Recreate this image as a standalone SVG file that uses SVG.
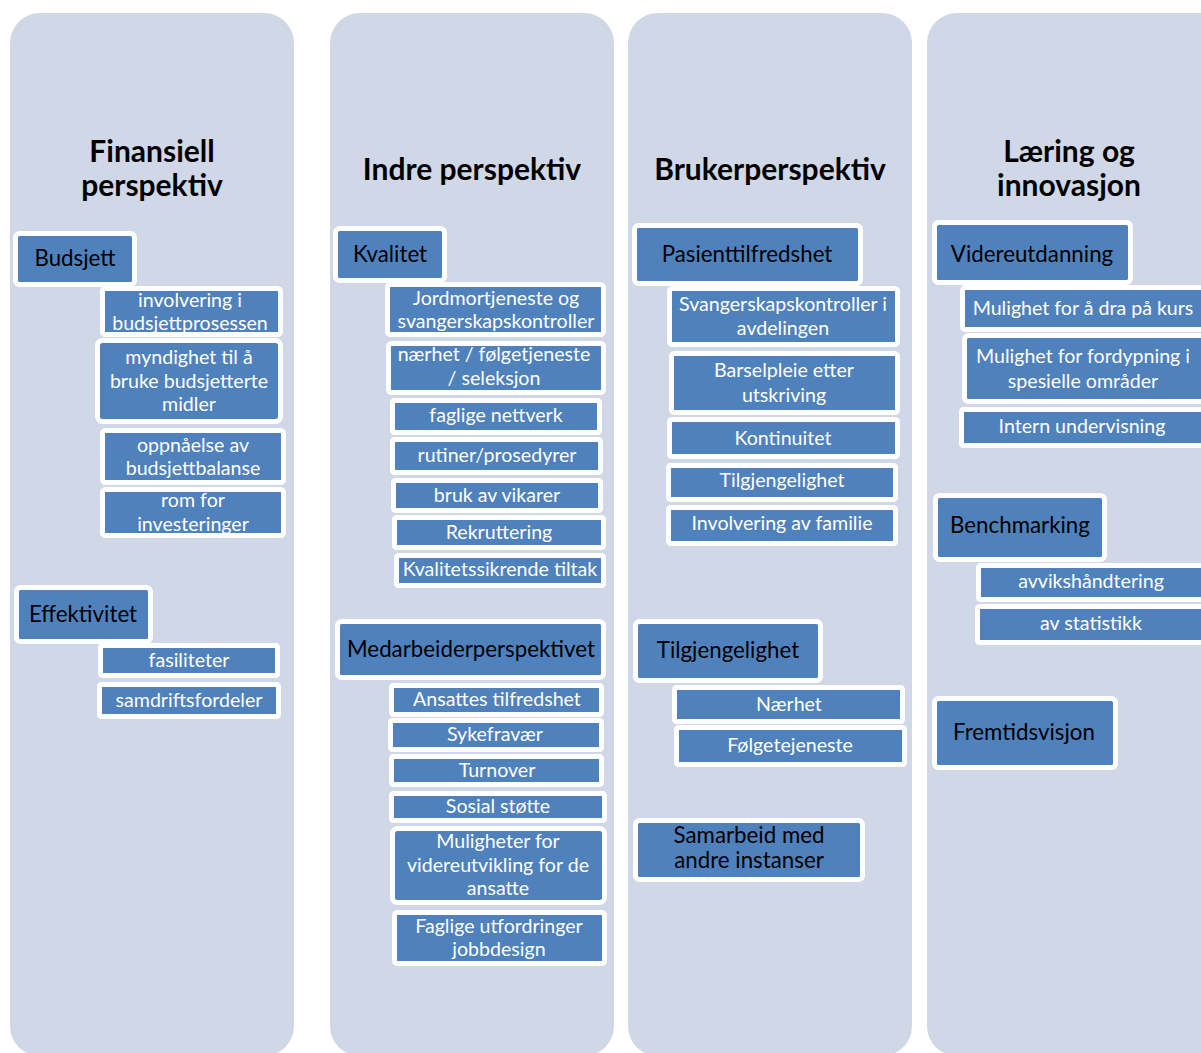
<svg xmlns="http://www.w3.org/2000/svg" width="1201" height="1053" viewBox="0 0 1201 1053">
<style>
.col{fill:#D0D8E8}
.hdr{font-family:Lato,"Liberation Sans",sans-serif;font-weight:bold;font-size:30px;fill:#000;text-anchor:middle}
rect.b{fill:#4F81BD;stroke:#fff;stroke-width:5}
.mt{font-family:Lato,"Liberation Sans",sans-serif;font-size:22.3px;fill:#000;text-anchor:middle}
.st{font-family:Lato,"Liberation Sans",sans-serif;font-size:19.6px;fill:#fff;text-anchor:middle}
</style>
<rect width="1201" height="1053" fill="#fff"/>
<g id="columns">
<rect class="col" x="10" y="13" width="284" height="1043" rx="30"/>
<rect class="col" x="330" y="13" width="284" height="1043" rx="30"/>
<rect class="col" x="628" y="13" width="284" height="1043" rx="30"/>
<rect class="col" x="927" y="13" width="310" height="1043" rx="30"/>
<text class="hdr" x="152" y="162">Finansiell</text>
<text class="hdr" x="152" y="196">perspektiv</text>
<text class="hdr" x="472" y="180">Indre perspektiv</text>
<text class="hdr" x="770" y="180">Brukerperspektiv</text>
<text class="hdr" x="1069" y="162">Læring og</text>
<text class="hdr" x="1069" y="196">innovasjon</text>
</g>
<g id="connectors"></g>
<g id="n-budsjett"><rect class="b" x="15.5" y="233.5" width="119" height="51" rx="4"/><text class="mt" x="75" y="266">Budsjett</text></g>
<g id="n-involvering"><rect class="b" x="102.5" y="288.5" width="178" height="46" rx="3"/><text class="st" x="190" y="307">involvering i</text><text class="st" x="190" y="330">budsjettprosessen</text></g>
<g id="n-myndighet"><rect class="b" x="97.5" y="340.5" width="183" height="81" rx="5"/><text class="st" x="189" y="364">myndighet til å</text><text class="st" x="189" y="388">bruke budsjetterte</text><text class="st" x="189" y="411">midler</text></g>
<g id="n-oppnaelse"><rect class="b" x="102.5" y="430.5" width="181" height="52" rx="3"/><text class="st" x="193" y="452">oppnåelse av</text><text class="st" x="193" y="475">budsjettbalanse</text></g>
<g id="n-rom"><rect class="b" x="102.5" y="489.5" width="181" height="46" rx="3"/><text class="st" x="193" y="507">rom for</text><text class="st" x="193" y="531">investeringer</text></g>
<g id="n-effektivitet"><rect class="b" x="16.5" y="587.5" width="134" height="54" rx="4"/><text class="mt" x="83" y="622">Effektivitet</text></g>
<g id="n-fasiliteter"><rect class="b" x="100.5" y="645.5" width="177" height="30" rx="2"/><text class="st" x="189" y="667">fasiliteter</text></g>
<g id="n-samdrift"><rect class="b" x="99.5" y="684.5" width="179" height="32" rx="2"/><text class="st" x="189" y="707">samdriftsfordeler</text></g>

<g id="n-kvalitet"><rect class="b" x="335.5" y="228.5" width="109" height="52" rx="4"/><text class="mt" x="390" y="262">Kvalitet</text></g>
<g id="n-jordmor"><rect class="b" x="387.5" y="284.5" width="216" height="50" rx="3"/><text class="st" x="496" y="305">Jordmortjeneste og</text><text class="st" x="496" y="328">svangerskapskontroller</text></g>
<g id="n-naerhet"><rect class="b" x="388.5" y="343.5" width="215" height="49" rx="3"/><text class="st" x="494" y="361">nærhet / følgetjeneste</text><text class="st" x="494" y="385">/ seleksjon</text></g>
<g id="n-faglige"><rect class="b" x="392.5" y="400.5" width="207" height="32" rx="2"/><text class="st" x="496" y="422">faglige nettverk</text></g>
<g id="n-rutiner"><rect class="b" x="392.5" y="439.5" width="208" height="33" rx="2"/><text class="st" x="497" y="462">rutiner/prosedyrer</text></g>
<g id="n-bruk"><rect class="b" x="393.5" y="480.5" width="207" height="30" rx="2"/><text class="st" x="497" y="502">bruk av vikarer</text></g>
<g id="n-rekruttering"><rect class="b" x="394.5" y="517.5" width="209" height="30" rx="2"/><text class="st" x="499" y="539">Rekruttering</text></g>
<g id="n-kvalsikr"><rect class="b" x="396.5" y="555.5" width="207" height="30" rx="2"/><text class="st" x="500" y="576">Kvalitetssikrende tiltak</text></g>
<g id="n-medarbeider"><rect class="b" x="337.5" y="621.5" width="266" height="56" rx="4"/><text class="mt" x="471" y="657">Medarbeiderperspektivet</text></g>
<g id="n-ansattes"><rect class="b" x="391.5" y="685.5" width="210" height="29" rx="2"/><text class="st" x="497" y="706">Ansattes tilfredshet</text></g>
<g id="n-sykefravaer"><rect class="b" x="390.5" y="720.5" width="211" height="29" rx="2"/><text class="st" x="495" y="741">Sykefravær</text></g>
<g id="n-turnover"><rect class="b" x="391.5" y="756.5" width="210" height="28" rx="2"/><text class="st" x="497" y="777">Turnover</text></g>
<g id="n-sosial"><rect class="b" x="391.5" y="793.5" width="213" height="27" rx="2"/><text class="st" x="498" y="813">Sosial støtte</text></g>
<g id="n-muligheter"><rect class="b" x="392.5" y="828.5" width="212" height="74" rx="5"/><text class="st" x="498" y="848">Muligheter for</text><text class="st" x="498" y="872">videreutvikling for de</text><text class="st" x="498" y="895">ansatte</text></g>
<g id="n-fagutf"><rect class="b" x="394.5" y="912.5" width="210" height="51" rx="3"/><text class="st" x="499" y="933">Faglige utfordringer</text><text class="st" x="499" y="956">jobbdesign</text></g>

<g id="n-pasient"><rect class="b" x="634.5" y="225.5" width="226" height="58" rx="4"/><text class="mt" x="747" y="262">Pasienttilfredshet</text></g>
<g id="n-svangerskap"><rect class="b" x="669.5" y="288.5" width="228" height="56" rx="3"/><text class="st" x="783" y="311">Svangerskapskontroller i</text><text class="st" x="783" y="335">avdelingen</text></g>
<g id="n-barsel"><rect class="b" x="671.5" y="353.5" width="226" height="59" rx="3"/><text class="st" x="784" y="377">Barselpleie etter</text><text class="st" x="784" y="402">utskriving</text></g>
<g id="n-kontinuitet"><rect class="b" x="669.5" y="419.5" width="228" height="37" rx="2"/><text class="st" x="783" y="445">Kontinuitet</text></g>
<g id="n-tilgj1"><rect class="b" x="668.5" y="465.5" width="227" height="34" rx="2"/><text class="st" x="782" y="487">Tilgjengelighet</text></g>
<g id="n-familie"><rect class="b" x="668.5" y="507.5" width="227" height="36" rx="2"/><text class="st" x="782" y="530">Involvering av familie</text></g>
<g id="n-tilgj2"><rect class="b" x="635.5" y="621.5" width="185" height="59" rx="4"/><text class="mt" x="728" y="658">Tilgjengelighet</text></g>
<g id="n-naerhet2"><rect class="b" x="674.5" y="687.5" width="228" height="34" rx="2"/><text class="st" x="789" y="711">Nærhet</text></g>
<g id="n-folge"><rect class="b" x="676.5" y="727.5" width="228" height="37" rx="2"/><text class="st" x="790" y="752">Følgetejeneste</text></g>
<g id="n-samarbeid"><rect class="b" x="635.5" y="820.5" width="227" height="59" rx="4"/><text class="mt" x="749" y="843">Samarbeid med</text><text class="mt" x="749" y="868">andre instanser</text></g>

<g id="n-videreutd"><rect class="b" x="934.5" y="222.5" width="196" height="60" rx="4"/><text class="mt" x="1032" y="262">Videreutdanning</text></g>
<g id="n-kurs"><rect class="b" x="962.5" y="287.5" width="250" height="42" rx="3"/><text class="st" x="1083" y="315">Mulighet for å dra på kurs</text></g>
<g id="n-fordypning"><rect class="b" x="964.5" y="335.5" width="250" height="66" rx="4"/><text class="st" x="1083" y="363">Mulighet for fordypning i</text><text class="st" x="1083" y="388">spesielle områder</text></g>
<g id="n-intern"><rect class="b" x="961.5" y="409.5" width="250" height="36" rx="2"/><text class="st" x="1082" y="433">Intern undervisning</text></g>
<g id="n-benchmarking"><rect class="b" x="935.5" y="495.5" width="169" height="64" rx="4"/><text class="mt" x="1020" y="533">Benchmarking</text></g>
<g id="n-avvik"><rect class="b" x="978.5" y="565.5" width="250" height="34" rx="2"/><text class="st" x="1091" y="588">avvikshåndtering</text></g>
<g id="n-statistikk"><rect class="b" x="977.5" y="606.5" width="250" height="36" rx="2"/><text class="st" x="1091" y="630">av statistikk</text></g>
<g id="n-fremtid"><rect class="b" x="934.5" y="698.5" width="181" height="69" rx="4"/><text class="mt" x="1024" y="740">Fremtidsvisjon</text></g>
</svg>
